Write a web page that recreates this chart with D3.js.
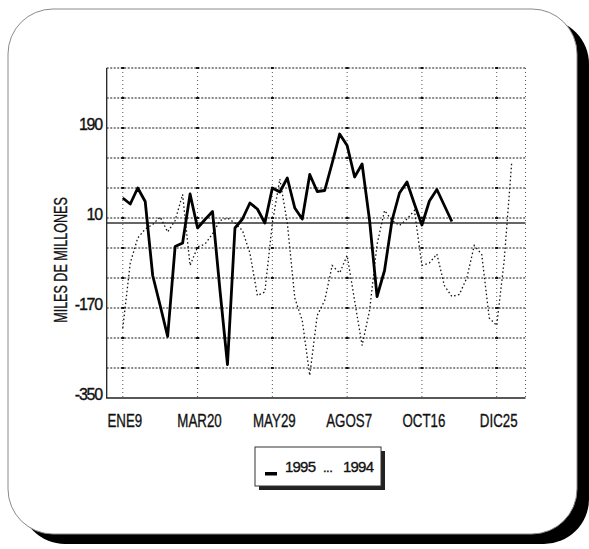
<!DOCTYPE html>
<html>
<head>
<meta charset="utf-8">
<script src="https://cdn.jsdelivr.net/npm/d3@7"></script>
<style>
  body { margin: 0; background: #fff; }
  svg { display: block; }
  text { font-family: "Liberation Sans", Arial, sans-serif; fill: #111; stroke: #111; stroke-width: 0.35px; }
</style>
</head>
<body>
<svg id="chart" width="589" height="549"></svg>
<script>
// Weekly balance, miles de millones. Week 0 = 9 de enero.
const tickWeeks  = [0, 10, 20, 30, 40, 50];
const tickLabels = ["ENE9", "MAR20", "MAY29", "AGOS7", "OCT16", "DIC25"];
const yTickValues = [190, 10, -170, -350];
const gridValues  = [-290, -230, -170, -110, -50, 10, 70, 130, 190, 250, 310];
const legendLabels = ["1995", "1994"];

const series1995 = [
   50,  38,  70,  43, -105, -165, -227, -47, -40,  58,
  -10,   7,  23, -135, -283,  -10,    8,  40,  28,   0,
   70,  62,  90,  30,    8,   97,   63,  65, 120, 178,
  155,  92, 118,   5, -147,  -95,    5,  60,  82,  38,
   -4,  44,  67,  35,    3
];

const series1994 = [
  -210, -80, -30, -12,  -3,  12, -18,   5,  57, -85,
   -48, -42, -22,   5,  10,   0, -15, -60, -145, -138,
     0,  88,   0, -150, -195, -305, -185, -155, -85, -100,
   -65, -155, -245, -175, -43,  25,   5,  -5,   8,  25,
   -85, -80, -62, -125, -147, -143, -110, -45, -63, -190,
  -205, -75, 120
];

const svg = d3.select("#chart");

// card with a hard drop shadow
svg.append("rect").attr("x", 20).attr("y", 19).attr("width", 569).attr("height", 525)
  .attr("rx", 45).attr("fill", "#000");
svg.append("rect").attr("x", 8).attr("y", 9).attr("width", 569).attr("height", 525)
  .attr("rx", 45).attr("fill", "#fff").attr("stroke", "#8a8a8a").attr("stroke-width", 1);

const x = d3.scaleLinear().domain([-2.15, 53.85]).range([106.7, 525.5]);
const y = d3.scaleLinear().domain([-350, 310]).range([398, 68]);

const plot = svg.append("g");

// vertical dotted grid at the date ticks and the right border
plot.selectAll("line.vgrid").data(tickWeeks.concat([53.85])).join("line")
  .attr("class", "vgrid")
  .attr("x1", d => x(d)).attr("x2", d => x(d))
  .attr("y1", y(310)).attr("y2", y(-350))
  .attr("stroke", "#555").attr("stroke-width", 1)
  .attr("stroke-dasharray", "1 3");

// horizontal dotted grid
plot.selectAll("line.hgrid").data(gridValues).join("line")
  .attr("class", "hgrid")
  .attr("x1", x(-2.15)).attr("x2", x(53.85))
  .attr("y1", d => y(d)).attr("y2", d => y(d))
  .attr("stroke", "#1a1a1a").attr("stroke-width", 1.1)
  .attr("stroke-dasharray", "2 1.5");

// grid crossing marks
const crossings = [];
gridValues.forEach(v => tickWeeks.forEach(w => crossings.push([w, v])));
plot.selectAll("rect.cross").data(crossings).join("rect")
  .attr("class", "cross")
  .attr("x", d => x(d[0]) - 1.5).attr("y", d => y(d[1]) - 1)
  .attr("width", 3).attr("height", 2).attr("fill", "#111");

// zero reference line
plot.append("line")
  .attr("x1", x(-2.15)).attr("x2", x(53.85))
  .attr("y1", y(0)).attr("y2", y(0))
  .attr("stroke", "#333").attr("stroke-width", 1.4);

// left and bottom axis lines
plot.append("path")
  .attr("d", `M${x(-2.15)},${y(310)}V${y(-350)}H${x(53.85)}`)
  .attr("fill", "none").attr("stroke", "#222").attr("stroke-width", 1.3);

const line = d3.line().x((d, i) => x(i)).y(d => y(d));

plot.append("path").datum(series1994)
  .attr("d", line).attr("fill", "none")
  .attr("stroke", "#111").attr("stroke-width", 1.3)
  .attr("stroke-dasharray", "1.5 2.5");

plot.append("path").datum(series1995)
  .attr("d", line).attr("fill", "none")
  .attr("stroke", "#000").attr("stroke-width", 2.8)
  .attr("stroke-linejoin", "round");

// y tick labels
svg.selectAll("text.ylab").data(yTickValues).join("text")
  .attr("class", "ylab")
  .attr("x", 102).attr("y", d => y(d) + 2)
  .attr("text-anchor", "end")
  .attr("font-size", 16).attr("letter-spacing", "-1.2px")
  .text(d => d);

// x tick labels (condensed)
svg.selectAll("text.xlab").data(tickWeeks).join("text")
  .attr("class", "xlab")
  .attr("transform", d => `translate(${x(d) + 2},427) scale(0.72,1)`)
  .attr("text-anchor", "middle")
  .attr("font-size", 18.5)
  .text((d, i) => tickLabels[i]);

// y axis title
svg.append("text")
  .attr("transform", "translate(67,260) rotate(-90) scale(0.68,1)")
  .attr("text-anchor", "middle")
  .attr("font-size", 18.5)
  .text("MILES DE MILLONES");

// legend
const lg = svg.append("g");
lg.append("rect").attr("x", 259).attr("y", 451).attr("width", 126).attr("height", 39).attr("fill", "#222");
lg.append("rect").attr("x", 255).attr("y", 447).attr("width", 126).attr("height", 39)
  .attr("fill", "#fff").attr("stroke", "#333").attr("stroke-width", 1);
lg.append("rect").attr("x", 265).attr("y", 472).attr("width", 12).attr("height", 3.5).attr("fill", "#000");
lg.append("text").attr("x", 285).attr("y", 472).attr("font-size", 15).attr("letter-spacing", "-0.8px")
  .text(legendLabels[0]);
lg.append("text").attr("x", 323).attr("y", 472).attr("font-size", 13).attr("letter-spacing", "-0.5px")
  .text("...");
lg.append("text").attr("x", 343).attr("y", 472).attr("font-size", 15).attr("letter-spacing", "-0.8px")
  .text(legendLabels[1]);
</script>
</body>
</html>
